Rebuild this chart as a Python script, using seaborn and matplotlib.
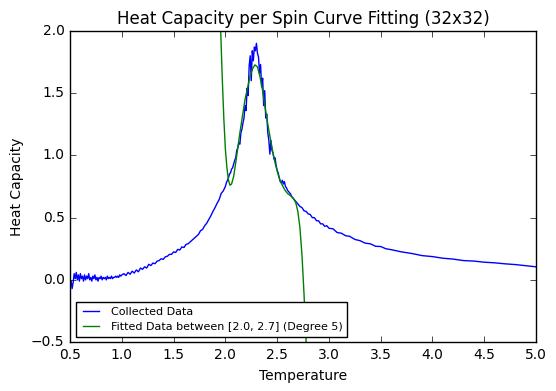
import matplotlib
matplotlib.use("Agg")
import matplotlib.pyplot as plt
import seaborn as sns
import pandas as pd

# Collected data (temperature, heat capacity per spin)
temp_low = [0.50, 0.51, 0.52, 0.53, 0.54, 0.55, 0.56, 0.57, 0.58, 0.59,
            0.60, 0.61, 0.62, 0.63, 0.64, 0.65, 0.66, 0.67, 0.68, 0.69,
            0.70, 0.71, 0.72, 0.73, 0.74, 0.75, 0.76, 0.77, 0.78, 0.79,
            0.80, 0.81, 0.82, 0.83, 0.84, 0.85, 0.86, 0.87, 0.88, 0.89,
            0.90, 0.91, 0.92, 0.93, 0.94, 0.95, 0.96, 0.97, 0.98, 0.99, 1.00]
heat_low = [0.00, -0.01, -0.07, -0.02, 0.05, 0.01, 0.06, 0.00, 0.04, -0.01,
            0.05, 0.01, 0.03, -0.01, 0.04, 0.00, 0.03, 0.01, 0.05, 0.00,
            0.02, -0.01, 0.03, 0.01, 0.04, 0.00, 0.02, -0.01, 0.02, 0.01,
            0.03, 0.00, 0.02, 0.01, 0.02, 0.00, 0.03, 0.01, 0.02, 0.01,
            0.03, 0.01, 0.02, 0.02, 0.03, 0.02, 0.03, 0.02, 0.04, 0.03, 0.04]

temp_mid = [1.02, 1.04, 1.06, 1.08, 1.10, 1.12, 1.14, 1.16, 1.18, 1.20,
            1.22, 1.24, 1.26, 1.28, 1.30, 1.32, 1.34, 1.36, 1.38, 1.40,
            1.42, 1.44, 1.46, 1.48, 1.50, 1.52, 1.54, 1.56, 1.58, 1.60,
            1.62, 1.64, 1.66, 1.68, 1.70, 1.72, 1.74, 1.76, 1.78, 1.80,
            1.82, 1.84, 1.86, 1.88, 1.90, 1.92, 1.94, 1.96, 1.98, 2.00]
heat_mid = [0.05, 0.035, 0.06, 0.045, 0.07, 0.055, 0.08, 0.065, 0.095, 0.085,
            0.105, 0.095, 0.125, 0.115, 0.135, 0.13, 0.15, 0.155, 0.17, 0.165,
            0.185, 0.19, 0.205, 0.205, 0.225, 0.22, 0.245, 0.24, 0.265, 0.26,
            0.285, 0.29, 0.305, 0.32, 0.335, 0.35, 0.365, 0.395, 0.405, 0.435,
            0.455, 0.485, 0.515, 0.55, 0.58, 0.615, 0.645, 0.695, 0.715, 0.75]

temp_crit = [2.01, 2.02, 2.03, 2.04, 2.05, 2.06, 2.07, 2.08, 2.09, 2.10,
             2.11, 2.12, 2.13, 2.14, 2.15, 2.16, 2.17, 2.18, 2.19, 2.20,
             2.21, 2.22, 2.23, 2.24, 2.25, 2.26, 2.27, 2.28, 2.29, 2.30,
             2.31, 2.32, 2.33, 2.34, 2.35, 2.36, 2.37, 2.38, 2.39, 2.40,
             2.41, 2.42, 2.43, 2.44, 2.45, 2.46, 2.47, 2.48, 2.49, 2.50,
             2.51, 2.52, 2.53, 2.54, 2.55, 2.56, 2.57, 2.58, 2.59, 2.60,
             2.61, 2.62, 2.63, 2.64, 2.65, 2.66, 2.67, 2.68, 2.69, 2.70]
heat_crit = [0.78, 0.80, 0.82, 0.85, 0.86, 0.89, 0.90, 0.93, 0.96, 0.98,
             1.04, 1.06, 1.10, 1.09, 1.18, 1.21, 1.26, 1.30, 1.40, 1.36,
             1.54, 1.48, 1.72, 1.80, 1.60, 1.84, 1.76, 1.87, 1.84, 1.90,
             1.82, 1.79, 1.66, 1.73, 1.55, 1.62, 1.40, 1.52, 1.30, 1.33,
             1.18, 1.12, 1.01, 1.12, 1.04, 1.02, 0.97, 0.98, 0.92, 0.88,
             0.86, 0.82, 0.79, 0.78, 0.80, 0.77, 0.79, 0.75, 0.74, 0.72,
             0.71, 0.70, 0.69, 0.67, 0.66, 0.65, 0.64, 0.63, 0.62, 0.61]

temp_high = [2.72, 2.74, 2.76, 2.78, 2.80, 2.82, 2.84, 2.86, 2.88, 2.90,
             2.92, 2.94, 2.96, 2.98, 3.00, 3.04, 3.08, 3.12, 3.16, 3.20,
             3.25, 3.30, 3.35, 3.40, 3.45, 3.50, 3.55, 3.60, 3.70, 3.80,
             3.90, 4.00, 4.10, 4.20, 4.30, 4.40, 4.50, 4.60, 4.70, 4.80,
             4.90, 5.00]
heat_high = [0.59, 0.58, 0.555, 0.55, 0.53, 0.525, 0.50, 0.50, 0.475, 0.475,
             0.45, 0.45, 0.43, 0.435, 0.415, 0.41, 0.38, 0.375, 0.355, 0.35,
             0.325, 0.315, 0.295, 0.29, 0.27, 0.268, 0.25, 0.243, 0.225, 0.212,
             0.195, 0.187, 0.174, 0.167, 0.155, 0.151, 0.142, 0.137, 0.129, 0.123,
             0.114, 0.105]

# Fitted curve (degree-5 polynomial over [2.0, 2.7])
fit_temp = [1.93, 1.955, 1.97, 1.985, 2.00, 2.015, 2.03, 2.045, 2.06, 2.08,
            2.10, 2.14, 2.19, 2.24, 2.265, 2.286, 2.31, 2.335, 2.36, 2.383,
            2.41, 2.431, 2.455, 2.48, 2.505, 2.528, 2.55, 2.576, 2.60, 2.63,
            2.653, 2.68, 2.70, 2.72, 2.74, 2.76, 2.78, 2.80]
fit_heat = [2.60, 2.00, 1.62, 1.30, 1.05, 0.90, 0.80, 0.76, 0.77, 0.83,
            0.94, 1.18, 1.45, 1.64, 1.70, 1.727, 1.71, 1.63, 1.52, 1.39,
            1.25, 1.15, 1.04, 0.94, 0.86, 0.80, 0.76, 0.72, 0.695, 0.675,
            0.66, 0.62, 0.55, 0.42, 0.20, -0.12, -0.50, -0.95]

collected = pd.DataFrame({
    "Temperature": temp_low + temp_mid + temp_crit + temp_high,
    "Heat Capacity": heat_low + heat_mid + heat_crit + heat_high,
})
fitted = pd.DataFrame({"Temperature": fit_temp, "Heat Capacity": fit_heat})

plt.style.use("classic")
fig = plt.figure(figsize=(5.56, 3.91), dpi=100, facecolor="white")
ax = fig.add_axes([0.126, 0.125, 0.838, 0.796])

sns.lineplot(data=collected, x="Temperature", y="Heat Capacity", ax=ax,
             color=(0, 0, 1), linewidth=1.0, label="Collected Data", sort=False)
sns.lineplot(data=fitted, x="Temperature", y="Heat Capacity", ax=ax,
             color=(0, 0.5, 0), linewidth=1.0,
             label="Fitted Data between [2.0, 2.7] (Degree 5)", sort=False)

ax.set_xlim(0.5, 5.0)
ax.set_ylim(-0.5, 2.0)
ax.set_xticks([0.5, 1.0, 1.5, 2.0, 2.5, 3.0, 3.5, 4.0, 4.5, 5.0])
ax.set_yticks([-0.5, 0.0, 0.5, 1.0, 1.5, 2.0])
ax.tick_params(labelsize=10)
ax.set_title("Heat Capacity per Spin Curve Fitting (32x32)", fontsize=12)
ax.set_xlabel("Temperature", fontsize=10)
ax.set_ylabel("Heat Capacity", fontsize=10)
leg = ax.legend(loc="lower left", fontsize=8, frameon=True, fancybox=False)
leg.get_frame().set_edgecolor("black")

fig.savefig("out.png", dpi=100, facecolor="white")
